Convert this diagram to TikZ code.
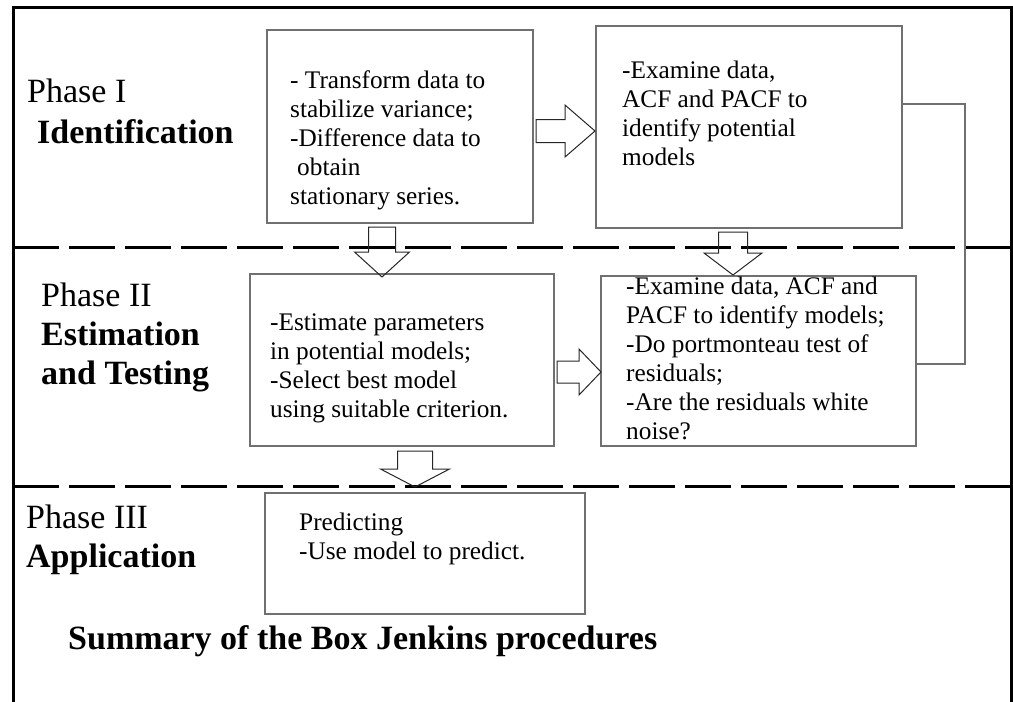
\documentclass[tikz,border=0pt]{standalone}
\usepackage{fontspec}
\setmainfont{Liberation Serif}
\usetikzlibrary{calc}
\definecolor{boxgray}{RGB}{112,112,112}
\tikzset{
  x=1pt, y=-1pt,
  frame/.style={line width=3pt, black},
  divider/.style={line width=3pt, black, dash pattern=on 46pt off 10pt},
  stepbox/.style={draw=boxgray, line width=1.5pt, anchor=north west, inner sep=0pt},
  boxtext/.style={anchor=north west, inner sep=0pt, align=left,
    font=\fontsize{25.3}{29}\selectfont},
  phase/.style={anchor=base west, inner sep=0pt, font=\fontsize{34}{40}\selectfont},
  phasebold/.style={anchor=base west, inner sep=0pt, font=\fontsize{34}{40}\selectfont\bfseries},
  titletext/.style={anchor=base west, inner sep=0pt, font=\fontsize{34}{40}\selectfont\bfseries},
  link/.style={draw=boxgray, line width=1.5pt},
  arrowline/.style={draw=black!85, line width=1pt, line join=miter},
  % hollow block arrow, tip at the origin pointing along +x
  % #1 head length, #2 shaft length, #3 shaft half-width, #4 head half-width
  pics/blockarrow/.style n args={4}{code={
    \draw[arrowline] (-#1-#2,-#3) -- (-#1,-#3) -- (-#1,-#4) -- (0,0)
      -- (-#1,#4) -- (-#1,#3) -- (-#1-#2,#3) -- cycle;
  }},
}
\begin{document}
\begin{tikzpicture}
\useasboundingbox (0,0) rectangle (1013,702);

% outer frame (open at the bottom) and phase dividers
\draw[frame] (13,702) -- (13,7) -- (1011,7) -- (1011,702);
\draw[divider] (13,247) -- (1011,247);
\draw[divider] (13,486) -- (1011,486);

% phase labels
\node[phase]     (ph1a) at (27,102)  {Phase I};
\node[phasebold] (ph1b) at (37,143)  {Identification};
\node[phase]     (ph2a) at (41,306)  {Phase II};
\node[phasebold] (ph2b) at (41,345)  {Estimation};
\node[phasebold] (ph2c) at (41,384)  {and Testing};
\node[phase]     (ph3a) at (26,528)  {Phase III};
\node[phasebold] (ph3b) at (26,567)  {Application};

% step boxes
\node[stepbox, minimum width=266, minimum height=193] (boxA) at (266,29) {};
\node[stepbox, minimum width=306, minimum height=202] (boxB) at (595,25) {};
\node[stepbox, minimum width=304, minimum height=172] (boxC) at (249,273) {};
\node[stepbox, minimum width=315, minimum height=170] (boxD) at (600,275) {};
\node[stepbox, minimum width=320, minimum height=121] (boxE) at (264,492) {};

% box contents
\node[boxtext] (txtA) at (290,67.7) {\strut- Transform data to\\stabilize variance;\\-Difference data to\\\hspace*{7pt}obtain\\stationary series.};
\node[boxtext] (txtB) at (622,57.7) {\strut-Examine data,\\ACF and PACF to\\identify potential\\models};
\node[boxtext] (txtC) at (270,309.7) {\strut-Estimate parameters\\in potential models;\\-Select best model\\using suitable criterion.};
\node[boxtext] (txtD) at (626,273.7) {\strut-Examine data, ACF and\\PACF to identify models;\\-Do portmonteau test of\\residuals;\\-Are the residuals white\\noise?};
\node[boxtext] (txtE) at (299,509.7) {\strut Predicting\\-Use model to predict.};

% feedback line from the model check back to identification
\coordinate (bend) at (965,364);
\draw[link] (boxB.north east |- 0,104) -| (bend) -- (bend -| boxD.east);

% hollow block arrows between the steps
\coordinate (tipAB) at (595,131);
\coordinate (tipCD) at (601,372);
\coordinate (tipAC) at (382,277);
\coordinate (tipBD) at (733,275);
\coordinate (tipCE) at (415,487);
\pic at (tipAB) {blockarrow={30}{29}{11.5}{26}};
\pic at (tipCD) {blockarrow={22}{22}{11}{23}};
\pic[rotate=-90] at (tipAC) {blockarrow={25}{25}{13.5}{27.5}};
\pic[rotate=-90] at (tipBD) {blockarrow={22}{21}{14.5}{29}};
\pic[rotate=-90] at (tipCE) {blockarrow={18}{18}{17.5}{34.5}};

% caption
\node[titletext] (title) at (68,649) {Summary of the Box Jenkins procedures};
\end{tikzpicture}
\end{document}
